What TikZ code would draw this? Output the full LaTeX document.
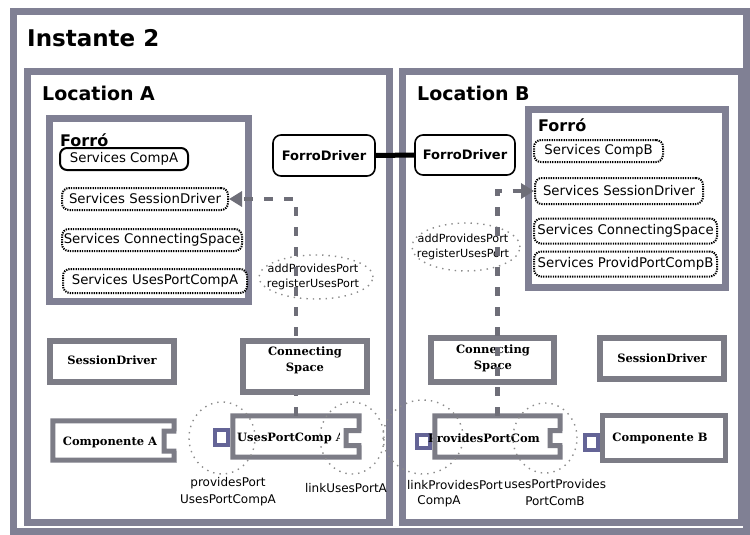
\documentclass[tikz,border=0pt]{standalone}
\usepackage{fontspec}
\setmainfont{DejaVu Sans}
\newfontfamily\serifface{DejaVu Serif}
\usetikzlibrary{arrows.meta,shapes.geometric}
\definecolor{framegray}{RGB}{128,128,148}
\definecolor{boxgray}{RGB}{124,124,134}
\definecolor{portblue}{RGB}{100,100,150}
\definecolor{flowgray}{RGB}{110,110,120}
\definecolor{ringgray}{RGB}{140,140,140}
\begin{document}
\begin{tikzpicture}[x=1pt,y=-1pt,
  frame/.style={draw=framegray,line width=7pt,inner sep=0pt},
  heading/.style={anchor=base west,inner sep=0pt,font=\bfseries\fontsize{#1}{#1}\selectfont},
  graybox/.style={draw=boxgray,line width=6pt,fill=white,inner sep=0pt},
  boxtext/.style={inner sep=0pt,align=center,font=\serifface\bfseries\fontsize{11.5}{16}\selectfont},
  svc/.style={rounded corners=7pt,line width=2pt,inner sep=0pt,fill=white,font=\fontsize{13.3}{15}\selectfont},
  svcdot/.style={svc,draw,dash pattern=on 1.3pt off 1.1pt},
  svcsolid/.style={svc,draw},
  driver/.style={draw,rounded corners=8pt,line width=1.6pt,inner sep=0pt,fill=white,font=\bfseries\fontsize{13}{15}\selectfont},
  link/.style={line width=5pt},
  flow/.style={draw=flowgray,line width=4.5pt,dash pattern=on 9pt off 11pt,-{Triangle[length=13pt,width=15pt]}},
  ring/.style={draw=ringgray,line width=1.4pt,dash pattern=on 1.4pt off 5pt,ellipse,inner sep=0pt},
  small/.style={inner sep=0pt,align=center,font=\fontsize{12}{16.5}\selectfont},
  msg/.style={inner sep=0pt,align=center,font=\fontsize{11.2}{14.5}\selectfont},
  compbody/.style={fill=white,inner sep=0pt},
  compline/.style={draw=boxgray,line width=5pt,line join=miter},
  port/.style={draw=portblue,line width=4pt,fill=white,inner sep=0pt},
]
\fill[white] (0,0) rectangle (750,535);
\useasboundingbox (0,0) rectangle (750,535);

% frames
\node[frame,minimum width=733,minimum height=519] (instante) at (379.5,271.5) {};
\node[frame,minimum width=362,minimum height=450] (locA) at (208,297) {};
\node[frame,minimum width=339,minimum height=450] (locB) at (571.5,297) {};
\node[heading=23] (title) at (27,47) {Instante 2};
\node[heading=19] (locAt) at (42,100) {Location A};
\node[heading=19] (locBt) at (417,100) {Location B};

% Forró container, location A
\node[frame,minimum width=199,minimum height=183] (forroA) at (148.5,209.5) {};
\node[heading=16] (forroAt) at (60,146) {Forró};
\node[svcsolid,minimum width=128,minimum height=22] (svcCompA) at (124,159) {Services CompA};
\node[svcdot,minimum width=166,minimum height=22] (svcSDA) at (145,199) {Services SessionDriver};
\node[svcdot,minimum width=180,minimum height=22] (svcCSA) at (152,240) {Services ConnectingSpace};
\node[svcdot,minimum width=184,minimum height=24] (svcUPA) at (155,281) {Services UsesPortCompA};

% Forró container, location B
\node[frame,minimum width=197,minimum height=178] (forroB) at (626.5,198) {};
\node[heading=16] (forroBt) at (538,131) {Forró};
\node[svcdot,minimum width=129,minimum height=22] (svcCompB) at (598.5,151) {Services CompB};
\node[svcdot,minimum width=168,minimum height=26] (svcSDB) at (619,191) {Services SessionDriver};
\node[svcdot,minimum width=183,minimum height=25] (svcCSB) at (625.5,231) {Services ConnectingSpace};
\node[svcdot,minimum width=183,minimum height=25] (svcPPB) at (625.5,264) {Services ProvidPortCompB};

% drivers and their link
\node[driver,minimum width=102,minimum height=41] (fdA) at (324,155.5) {ForroDriver};
\node[driver,minimum width=100,minimum height=40] (fdB) at (465,155) {ForroDriver};
\draw[link] (fdA.east) -- (fdB.west);

% ---- location A, lower part
\node[ring,minimum width=114,minimum height=44] (msgA) at (316,277) {};
\node[msg] (msgAt) at (313,277) {addProvidesPort\\registerUsesPort};

\node[graybox,minimum width=124,minimum height=41] (sdA) at (112,361.5) {};
\node[boxtext] (sdAt) at (112,360) {SessionDriver};

\node[compbody,minimum width=121,minimum height=39] (compA) at (113.5,440.5) {};
\node[boxtext] (compAt) at (110,442) {Componente A};
\draw[compline] (compA.north west) -- (compA.north east) -- (174,431) -- (164,431)
  -- (164,451) -- (174,451) -- (compA.south east) -- (compA.south west) -- cycle;

\node[port,minimum width=13,minimum height=15] (upcP) at (221.5,437.5) {};
\node[compbody,minimum width=126,minimum height=41] (upc) at (296,436.5) {};
\node[boxtext,anchor=base west] (upct) at (237,441) {UsesPortComp A};
\fill[white] (339.5,431) rectangle (362,444);
\draw[compline] (upc.north west) -- (upc.north east) -- (359,430.5) -- (346,430.5)
  -- (346,445.5) -- (359,445.5) -- (upc.south east) -- (upc.south west) -- cycle;

\node[ring,minimum width=66,minimum height=72] (ringA1) at (222,438) {};
\node[ring,minimum width=64,minimum height=72] (ringA2) at (352,438) {};

\draw[flow] (upc.north) |- (svcSDA.east);

\node[graybox,minimum width=124,minimum height=51] (csA) at (305,366.5) {};
\node[boxtext] (csAt) at (305,360) {Connecting\\Space};

\node[small] (lblA1) at (228,491.5) {providesPort\\UsesPortCompA};
\node[small] (lblA2) at (346,488) {linkUsesPortA};

% ---- location B, lower part
\node[ring,minimum width=108,minimum height=48] (msgB) at (466,247) {};
\node[msg] (msgBt) at (463,247) {addProvidesPort\\registerUsesPort};

\node[graybox,minimum width=124,minimum height=41] (sdB) at (662,358.5) {};
\node[boxtext] (sdBt) at (662,358) {SessionDriver};

\node[graybox,minimum width=123,minimum height=44] (csB) at (492.5,360) {};
\node[boxtext] (csBt) at (493,358.5) {Connecting\\Space};

\node[port,minimum width=13,minimum height=13] (ppcP) at (423.5,441.5) {};
\node[compbody,minimum width=125,minimum height=41] (ppc) at (497.5,436.5) {};
\node[boxtext,anchor=base west] (ppct) at (428,442) {ProvidesPortCom};
\draw[compline] (ppc.north west) -- (ppc.north east) -- (560,430.5) -- (550,430.5)
  -- (550,445.5) -- (560,445.5) -- (ppc.south east) -- (ppc.south west) -- cycle;

\node[port,minimum width=13,minimum height=15] (compBP) at (591.5,442.5) {};
\node[compbody,minimum width=122,minimum height=44] (compB) at (664,438) {};
\draw[compline] (compB.north west) rectangle (compB.south east);
\node[boxtext] (compBt) at (660,438) {Componente B};

\draw[flow] (ppc.north) |- (svcSDB.west);

\node[ring,minimum width=80,minimum height=74] (ringB1) at (423,437) {};
\node[ring,minimum width=64,minimum height=70] (ringB2) at (545,438) {};

\node[small] (lblB1) at (455,485) {linkProvidesPort};
\node[small] (lblB1b) at (439,501) {CompA};
\node[small] (lblB2) at (555,492.5) {usesPortProvides\\PortComB};
\end{tikzpicture}
\end{document}
